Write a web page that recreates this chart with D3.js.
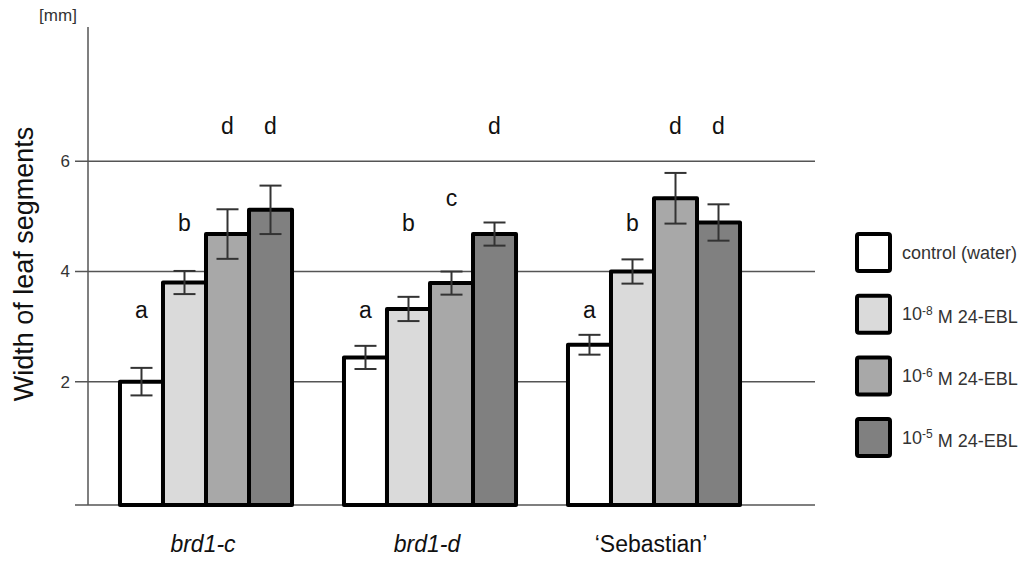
<!DOCTYPE html>
<html>
<head>
<meta charset="utf-8">
<script src="https://cdn.jsdelivr.net/npm/d3@7"></script>
<style>
  body { margin: 0; background: #fff; }
  svg { display: block; font-family: "Liberation Sans", Arial, sans-serif; }
</style>
</head>
<body>
<svg id="chart" width="1024" height="561"></svg>
<script>
// values
const groups = ['brd1-c', 'brd1-d', '\u2018Sebastian\u2019'];
const italicGroups = [true, true, false];
const seriesNames = ['control', 'e8', 'e6', 'e5'];
const legendBase = ['control (water)', '10', '10', '10'];
const legendExp = ['', '-8', '-6', '-5'];
const means = [
    [2.00, 3.80, 4.68, 5.12],
    [2.44, 3.32, 3.79, 4.68],
    [2.67, 4.00, 5.33, 4.89]
];
const errs = [
    [0.25, 0.21, 0.45, 0.44],
    [0.21, 0.22, 0.21, 0.21],
    [0.18, 0.22, 0.46, 0.33]
];
const letters = [
    ['a', 'b', 'd', 'd'],
    ['a', 'b', 'c', 'd'],
    ['a', 'b', 'd', 'd']
];
const letterLevel = {a: 3.30, b: 4.88, c: 5.33, d: 6.65};
const yTicks = [2, 4, 6];
const fills = ['#ffffff', '#dadada', '#a8a8a8', '#808080'];

const svg = d3.select('#chart');

const y = d3.scaleLinear().domain([-0.24, 8.44]).range([505, 27]);
const x0 = d3.scaleBand().domain(groups).range([94, 766])
    .paddingInner(0.232).paddingOuter(0.116);
const x1 = d3.scaleBand().domain(seriesNames).range([0, x0.bandwidth()]);
const color = d3.scaleOrdinal().domain(seriesNames).range(fills);

const axisX = 88, gridLeft = 75, gridRight = 815;

// gridlines + baseline
svg.selectAll('line.grid')
    .data(yTicks.concat([y.domain()[0]])).enter().append('line')
    .attr('class', 'grid')
    .attr('x1', gridLeft).attr('x2', gridRight)
    .attr('y1', d => y(d)).attr('y2', d => y(d))
    .attr('stroke', '#555').attr('stroke-width', 1.5);

// y axis line
svg.append('line')
    .attr('x1', axisX).attr('x2', axisX)
    .attr('y1', y.range()[1]).attr('y2', y.range()[0])
    .attr('stroke', '#555').attr('stroke-width', 1.5);

svg.selectAll('text.tick')
    .data(yTicks).enter().append('text')
    .attr('class', 'tick')
    .attr('x', 70).attr('y', d => y(d))
    .attr('dy', '0.35em')
    .attr('text-anchor', 'end')
    .attr('font-size', 17).attr('fill', '#333')
    .text(d => d);

svg.append('text')
    .attr('x', 58).attr('y', 21)
    .attr('text-anchor', 'middle')
    .attr('font-size', 17).attr('fill', '#333')
    .text('[mm]');

svg.append('text')
    .attr('transform', 'translate(33,264) rotate(-90)')
    .attr('text-anchor', 'middle')
    .attr('font-size', 27).attr('fill', '#111')
    .text('Width of leaf segments');

// bars
const rows = [];
groups.forEach(function (g, gi) {
    seriesNames.forEach(function (s, si) {
        rows.push({group: g, series: s, value: means[gi][si], err: errs[gi][si], letter: letters[gi][si]});
    });
});

const bar = svg.selectAll('g.bar')
    .data(rows).enter().append('g')
    .attr('class', 'bar')
    .attr('transform', d => 'translate(' + (x0(d.group) + x1(d.series)) + ',0)');

bar.append('rect')
    .attr('x', 0)
    .attr('y', d => y(d.value))
    .attr('width', x1.bandwidth())
    .attr('height', d => y(y.domain()[0]) - y(d.value))
    .attr('fill', d => color(d.series))
    .attr('stroke', '#000').attr('stroke-width', 4)
    .attr('stroke-linejoin', 'round');

const cx = x1.bandwidth() / 2, cap = 11;
bar.append('line')
    .attr('x1', cx).attr('x2', cx)
    .attr('y1', d => y(d.value + d.err)).attr('y2', d => y(d.value - d.err))
    .attr('stroke', '#333').attr('stroke-width', 2);
bar.append('line')
    .attr('x1', cx - cap).attr('x2', cx + cap)
    .attr('y1', d => y(d.value + d.err)).attr('y2', d => y(d.value + d.err))
    .attr('stroke', '#333').attr('stroke-width', 2);
bar.append('line')
    .attr('x1', cx - cap).attr('x2', cx + cap)
    .attr('y1', d => y(d.value - d.err)).attr('y2', d => y(d.value - d.err))
    .attr('stroke', '#333').attr('stroke-width', 2);

bar.append('text')
    .attr('x', cx)
    .attr('y', d => y(letterLevel[d.letter]))
    .attr('dy', '0.35em')
    .attr('text-anchor', 'middle')
    .attr('font-size', 23).attr('fill', '#111')
    .text(d => d.letter);

// category labels
svg.selectAll('text.cat')
    .data(groups).enter().append('text')
    .attr('class', 'cat')
    .attr('x', d => x0(d) + x0.bandwidth() / 2 - 3)
    .attr('y', 544).attr('dy', '0.35em')
    .attr('text-anchor', 'middle')
    .attr('font-size', 23).attr('fill', '#111')
    .attr('font-style', (d, i) => italicGroups[i] ? 'italic' : 'normal')
    .text(d => d);

// legend
const legend = svg.selectAll('g.legend')
    .data(seriesNames).enter().append('g')
    .attr('class', 'legend')
    .attr('transform', (d, i) => 'translate(857,' + (234 + i * 61.7) + ')');

legend.append('rect')
    .attr('width', 33).attr('height', 37)
    .attr('rx', 2)
    .attr('fill', d => color(d))
    .attr('stroke', '#000').attr('stroke-width', 4);

const lt = legend.append('text')
    .attr('x', 45).attr('y', 18.5).attr('dy', '0.35em')
    .attr('font-size', 18).attr('fill', '#333');
lt.append('tspan').text((d, i) => legendBase[i]);
lt.append('tspan')
    .attr('dy', '-0.45em').attr('font-size', 12)
    .text((d, i) => legendExp[i]);
lt.append('tspan')
    .attr('dy', (d, i) => legendExp[i] ? '0.45em' : 0)
    .text((d, i) => legendExp[i] ? ' M 24-EBL' : '');
</script>
</body>
</html>
